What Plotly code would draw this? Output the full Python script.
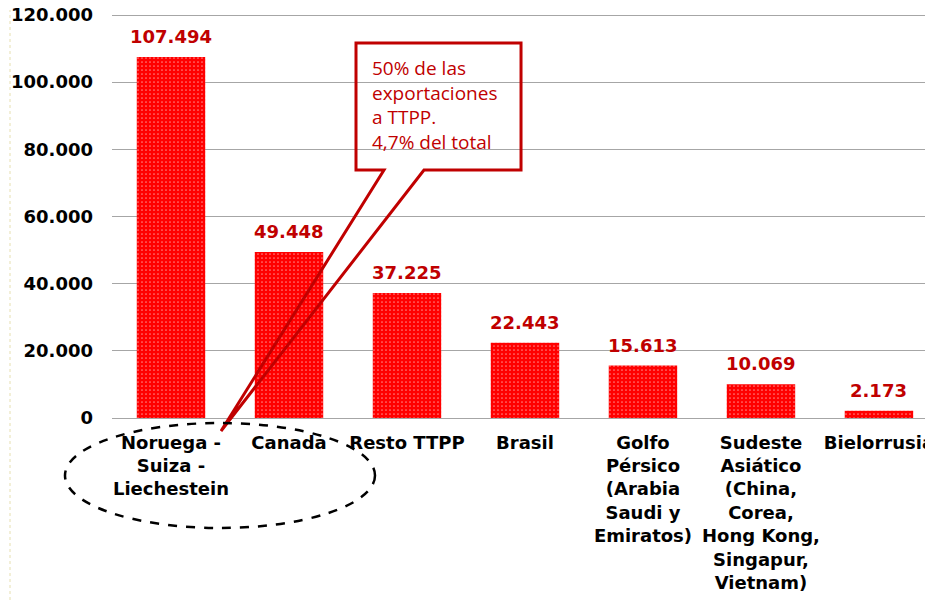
import plotly.graph_objects as go

regions = ["Noruega -<br>Suiza -<br>Liechestein", "Canada", "Resto TTPP", "Brasil",
           "Golfo<br>Pérsico<br>(Arabia<br>Saudi y<br>Emiratos)",
           "Sudeste<br>Asiático<br>(China,<br>Corea,<br>Hong Kong,<br>Singapur,<br>Vietnam)",
           "Bielorrusia"]
exports = [107494, 49448, 37225, 22443, 15613, 10069, 2173]
y_ticks = [0, 20000, 40000, 60000, 80000, 100000, 120000]
callout_text = "50% de las<br>exportaciones<br>a TTPP.<br>4,7% del total"

DARK_RED = "#c00000"
# page has an 8px body margin, so the figure is a bit smaller than the window
OFF = 8
W, H = 933 - OFF, 605 - OFF
ML, MT, MB = 112 - OFF, 0, 187
PW, PH = W - ML, H - MT - MB
# 120.000 sits 403px above the zero line in the original
y_top = 120000 * PH / 403


def px(x, y):
    # window pixel position -> paper coords (for the hand drawn callout)
    return (x - OFF - ML) / PW, (H - MB - (y - OFF)) / PH


fig = go.Figure()
fig.add_trace(go.Bar(
    x=regions, y=exports,
    width=0.58,
    marker=dict(color="#ff0000", line=dict(width=0),
                pattern=dict(shape=".", fgcolor="white", size=4, solidity=0.15)),
))

# value labels, a bit higher above the bars than plotly's outside text
for r, v in zip(regions, exports):
    fig.add_annotation(x=r, y=v, text=f"{v:,}".replace(",", "."), showarrow=False,
                       yanchor="bottom", yshift=8,
                       font=dict(family="DejaVu Sans", size=18, color=DARK_RED, weight="bold"))

# callout box with pointer
pts = [px(356, 43), px(521, 43), px(521, 170), px(424, 170), px(221, 431),
       px(384, 170), px(356, 170)]
path = "M " + " L ".join(f"{x:.4f},{y:.4f}" for x, y in pts) + " Z"
fig.add_shape(type="path", path=path, xref="paper", yref="paper",
              line=dict(color=DARK_RED, width=3), fillcolor="rgba(0,0,0,0)")
tx, ty = px(370, 105)
fig.add_annotation(text=callout_text, xref="paper", yref="paper", x=tx, y=ty,
                   xanchor="left", yanchor="middle", align="left", showarrow=False,
                   font=dict(family="Open Sans", size=19, color=DARK_RED))

# dashed ellipse round the first label
x0, y0 = px(65, 528)
x1, y1 = px(375, 423)
fig.add_shape(type="circle", xref="paper", yref="paper", x0=x0, y0=y0, x1=x1, y1=y1,
              line=dict(color="black", width=2.5, dash="dash"))

# faint dotted edge on the left
lx, ly0 = px(10, 600)
_, ly1 = px(10, 10)
fig.add_shape(type="line", xref="paper", yref="paper", x0=lx, x1=lx, y0=ly0, y1=ly1,
              line=dict(color="#e6dfb0", width=1, dash="dot"))

fig.update_layout(
    width=W, height=H,
    margin=dict(l=ML, r=0, t=MT, b=MB, autoexpand=False),
    plot_bgcolor="white", paper_bgcolor="white",
    separators=",.",
    showlegend=False,
    font=dict(family="DejaVu Sans", size=18, color="black"),
    xaxis=dict(range=[-0.5, 6.458], showgrid=False, showline=True, linecolor="#a6a6a6",
               ticks="", tickangle=0, ticklabelstandoff=8, automargin=False,
               tickfont=dict(family="DejaVu Sans", size=18, color="black", weight="bold")),
    yaxis=dict(range=[0, y_top], tickvals=y_ticks, tickformat=",.0f",
               showgrid=True, gridcolor="#a6a6a6", gridwidth=1, zeroline=False,
               ticks="", ticklabelstandoff=18, automargin=False, ticklabeloverflow="allow",
               tickfont=dict(family="DejaVu Sans", size=18, color="black", weight="bold")),
)

fig.write_html("out.html")
